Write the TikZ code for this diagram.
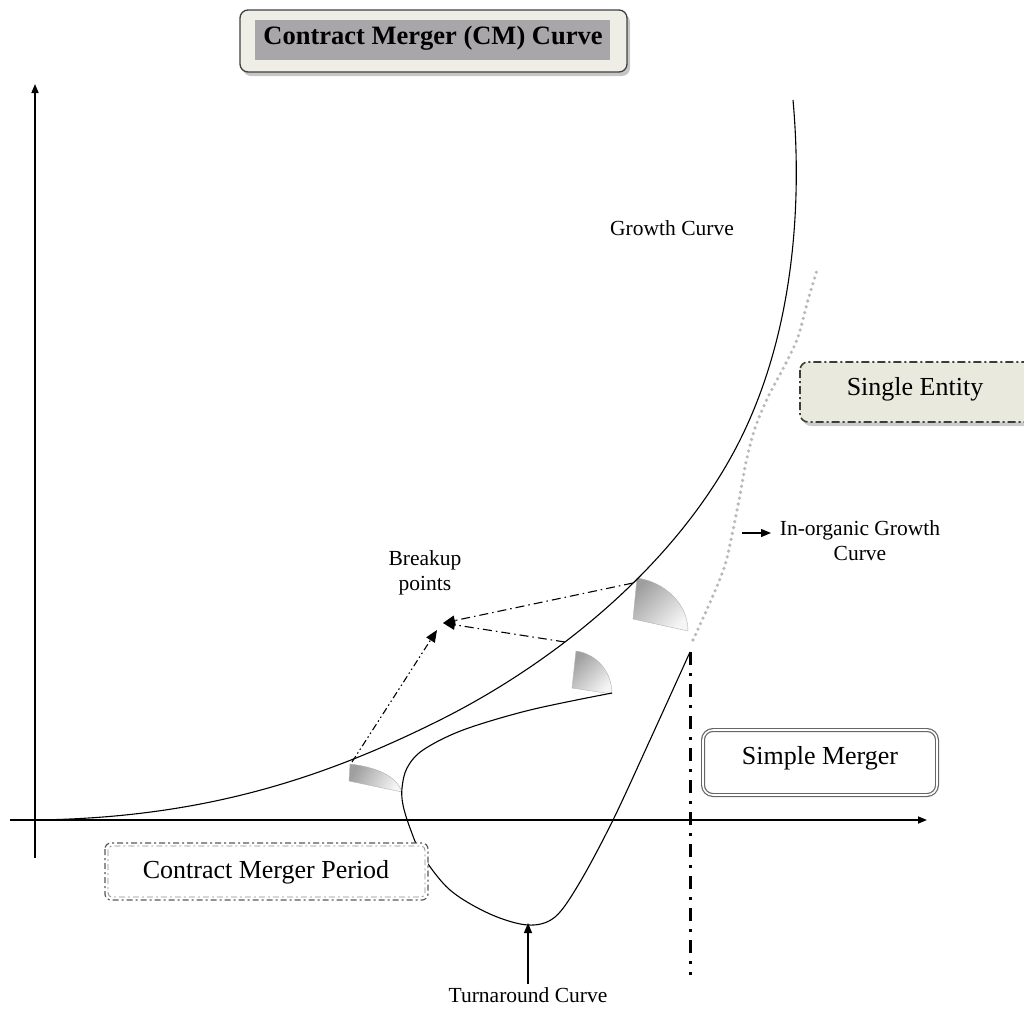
\documentclass[tikz,border=0pt]{standalone}
\usepackage{fontspec}
\setmainfont{Liberation Serif}
\usetikzlibrary{arrows.meta,shadows}
\definecolor{titlefill}{RGB}{239,238,230}
\definecolor{titlegray}{RGB}{168,166,168}
\definecolor{entityfill}{RGB}{234,233,221}
\definecolor{entityline}{RGB}{60,62,48}
\tikzset{
  big/.style={font=\fontsize{26}{30}\selectfont},
  small/.style={font=\fontsize{21.5}{25}\selectfont},
  curveline/.style={line width=1.1pt, black},
  axisline/.style={line width=1.6pt, -{Triangle[length=9pt,width=7pt]}},
  breakline/.style={line width=1.1pt, dash pattern=on 7pt off 3pt on 1.5pt off 3pt on 1.5pt off 3pt, -{Triangle[length=12pt,width=10pt]}},
  breakline2/.style={line width=1.1pt, dash pattern=on 9pt off 4pt on 1.5pt off 4pt, -{Triangle[length=12pt,width=10pt]}},
  wedge/.style={left color=gray!75, right color=gray!8, draw=gray!60, line width=0.4pt},
  pointer/.style={line width=1.2pt, -{Triangle[length=10pt,width=8pt]}},
}
\begin{document}
\begin{tikzpicture}[x=1pt,y=-1pt]
\useasboundingbox (0,0) rectangle (1024,1010);

% title box
\fill[gray!45, rounded corners=8pt] (243,14) rectangle (630,76);
\draw[rounded corners=8pt, fill=titlefill, draw=black!75, line width=1.3pt] (240,10) rectangle (627,72);
\fill[titlegray] (255,20) rectangle (610,60);
\node[font=\fontsize{26.5}{30}\selectfont\bfseries] (title) at (433,38) {Contract Merger (CM) Curve};

% axes
\coordinate (ybot) at (35,858);
\coordinate (ytop) at (35,84);
\coordinate (xleft) at (10,820);
\coordinate (xright) at (927,820);
\draw[axisline] (ybot) -- (ytop);
\draw[axisline] (xleft) -- (xright);

% wedges
\draw[wedge, shading angle=60] (350,764) .. controls (375,767) and (396,775) .. (402,792) -- (349,781) -- cycle;
\draw[wedge, shading angle=45] (576,651) .. controls (597,654) and (612,672) .. (612,694) -- (572,688) -- cycle;
\draw[wedge, shading angle=45] (637,578) .. controls (665,582) and (688,604) .. (688,631) -- (633,619) -- cycle;

% growth curve
\draw[curveline] (35,820) .. controls (200,818) and (320,780) .. (440,720)
  .. controls (560,660) and (680,560) .. (740,440)
  .. controls (795,330) and (802,200) .. (793,100);

% turnaround curve
\draw[curveline] plot[smooth, tension=0.55] coordinates {(612,693) (530,710) (463,730) (423,750) (407,768) (402,788) (403,805) (410,828) (422,855) (450,890) (490,914) (528,925) (555,917) (580,882) (613,820) (650,740) (690,652)};

% in-organic dotted curve
\draw[gray!55, line width=3.6pt, line cap=round, dash pattern=on 0pt off 6pt] plot[smooth, tension=0.5] coordinates {(693,640) (712,598) (725,565) (733,530) (740,495) (746,462) (755,428) (768,397) (785,365) (798,337) (808,300) (818,267)};

% vertical dash-dot
\coordinate (vtop) at (690,652);
\coordinate (vbot) at (690,975);
\draw[line width=3pt, dash pattern=on 13pt off 8pt on 3pt off 8pt] (vtop) -- (vbot);

% breakup arrows
\coordinate (bp1) at (352,762);
\coordinate (bp2) at (565,642);
\coordinate (bp3) at (633,583);
\coordinate (tipA) at (437,630);
\coordinate (tipB) at (443,623);
\draw[breakline] (bp1) -- (tipA);
\draw[breakline2] (bp2) -- (tipB);
\draw[breakline2] (bp3) -- (tipB);

% labels
\node[small, align=center] (breakup) at (425,573) {Breakup\\points};
\node[small] (growth) at (672,228) {Growth Curve};
\node[small, align=center, inner sep=0pt] (inorg) at (860,541) {In-organic Growth\\Curve};
\coordinate (inarrS) at (742,533);
\coordinate (inarrE) at (771,533);
\draw[pointer] (inarrS) -- (inarrE);

% single entity
\fill[gray!40, rounded corners=8pt] (803,366) rectangle (1040,426);
\draw[rounded corners=8pt, fill=entityfill, draw=entityline, line width=1.6pt, dash pattern=on 8pt off 3pt on 2pt off 3pt] (800,362) rectangle (1040,422);
\node[big] (single) at (915,389) {Single Entity};

% simple merger
\draw[rounded corners=10pt, draw=gray!80!black, line width=1.2pt, double=white, double distance=1.6pt] (703,730) rectangle (937,795);
\node[big] (simple) at (820,758) {Simple Merger};

% contract merger period
\draw[rounded corners=6pt, draw=black!65, line width=1.2pt, dash pattern=on 6pt off 3pt on 2pt off 3pt, fill=white] (105,843) rectangle (428,900);
\draw[rounded corners=4pt, draw=black!45, line width=0.8pt, dash pattern=on 6pt off 3pt on 2pt off 3pt] (108,846) rectangle (425,897);
\node[big] (cmp) at (266,872) {Contract Merger Period};

% turnaround label
\node[small] (turn) at (528,995) {Turnaround Curve};
\coordinate (turnTip) at (528,923);
\draw[pointer] (turn.north) -- (turnTip);
\end{tikzpicture}
\end{document}
